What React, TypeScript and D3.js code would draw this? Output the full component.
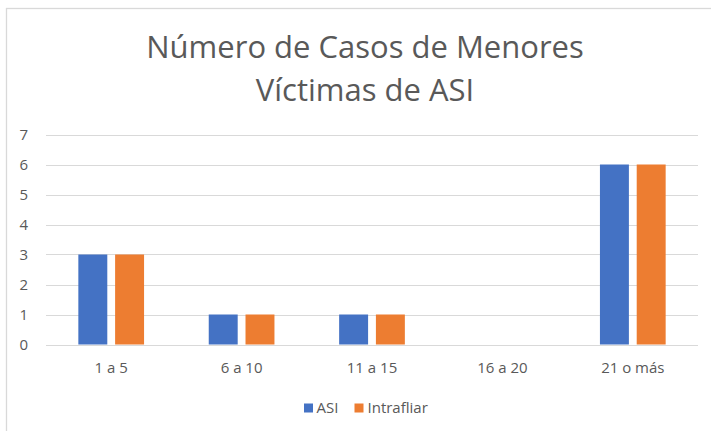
import React from "react";
import * as d3 from "d3";

const categories = ["1 a 5", "6 a 10", "11 a 15", "16 a 20", "21 o más"];
const asiValues = [3, 1, 1, 0, 6];
const intraValues = [3, 1, 1, 0, 6];
const seriesNames = ["ASI", "Intrafliar"];
const seriesColors = ["#4472C4", "#ED7D31"];
const yTicks = [0, 1, 2, 3, 4, 5, 6, 7];
const titleLines = ["Número de Casos de Menores", "Víctimas de ASI"];

const W = 711;
const H = 431;
const FONT = "'Open Sans', sans-serif";
const TEXT = "#595959";
const GRID = "#d9d9d9";

export default function App() {
  const x = d3.scaleBand<string>().domain(categories).range([46, 698]).paddingInner(0).paddingOuter(0);
  const y = d3.scaleLinear().domain([0, 7]).range([344.5, 134.5]);
  const band = x.bandwidth();
  const bw = band * 0.222;
  const gap = bw * 0.27;
  const series = [asiValues, intraValues];

  return (
    <svg width={W} height={H} style={{ position: "absolute", left: 0, top: 0, background: "#fff" }}>
      <rect x={6.5} y={8.5} width={W + 20} height={H + 20} fill="#fff" stroke={GRID} strokeWidth={1.3} />
      {titleLines.map((t, i) => (
        <text key={t} x={365} y={57.5 + i * 43.5} textAnchor="middle" fontFamily={FONT} fontSize={31} fill={TEXT}>
          {t}
        </text>
      ))}
      {yTicks.map((t) => (
        <g key={t}>
          <line x1={46} x2={698} y1={Math.round(y(t)) + 0.5} y2={Math.round(y(t)) + 0.5} stroke={GRID} strokeWidth={1} />
          <text x={28} y={y(t) + 5} textAnchor="end" fontFamily={FONT} fontSize={15} fill={TEXT}>
            {t}
          </text>
        </g>
      ))}
      {categories.map((c, ci) => {
        const cx = (x(c) as number) + band / 2;
        const groupW = bw * 2 + gap;
        return (
          <g key={c}>
            {series.map((vals, si) => {
              const bx = cx - groupW / 2 + si * (bw + gap);
              const v = vals[ci];
              if (v <= 0) return null;
              return (
                <rect key={si} x={bx} y={y(v)} width={bw} height={y(0) - y(v)} fill={seriesColors[si]} />
              );
            })}
            <text x={cx} y={373} textAnchor="middle" fontFamily={FONT} fontSize={15} fill={TEXT}>
              {c}
            </text>
          </g>
        );
      })}
      <g>
        <rect x={304} y={403.5} width={9} height={9} fill={seriesColors[0]} />
        <text x={316.5} y={413} fontFamily={FONT} fontSize={15} fill={TEXT}>{seriesNames[0]}</text>
        <rect x={354.5} y={403.5} width={9} height={9} fill={seriesColors[1]} />
        <text x={367.5} y={413} fontFamily={FONT} fontSize={15} fill={TEXT}>{seriesNames[1]}</text>
      </g>
    </svg>
  );
}
